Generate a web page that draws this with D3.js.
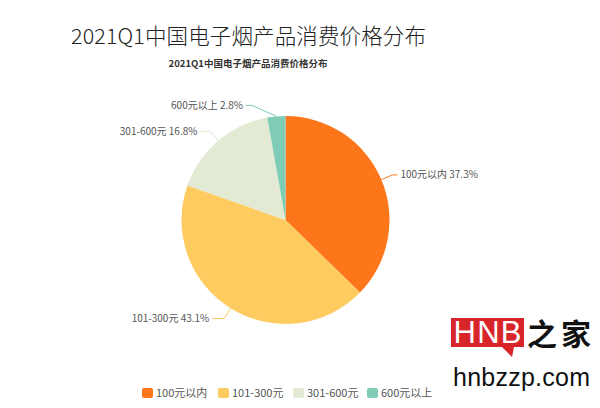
<!DOCTYPE html>
<html><head><meta charset="utf-8">
<script src="https://cdn.jsdelivr.net/npm/d3@7/dist/d3.min.js"></script>
<style>body{margin:0;background:#fff}svg{display:block}</style>
</head><body>
<svg id="c" width="600" height="408"></svg>
<script>
const title = "2021Q1中国电子烟产品消费价格分布";
const categories = ["100元以内", "101-300元", "301-600元", "600元以上"];
const values = [37.3, 43.1, 16.8, 2.8];
const colors = ["#FD761A", "#FDCB5F", "#E2EAD3", "#7ECCB6"];

const svg = d3.select("#c");
const font = "'Noto Sans CJK SC','Noto Sans',sans-serif";
const cx = 285.5, cy = 220, r = 104;

svg.append("text").attr("x", 71).attr("y", 44).attr("font-family", font)
  .attr("font-size", 21.5).attr("font-weight", 300).attr("fill", "#222")
  .attr("textLength", 355).text(title);
svg.append("text").attr("x", 248).attr("y", 67).attr("text-anchor", "middle")
  .attr("font-family", font).attr("font-size", 9.5).attr("font-weight", 700)
  .attr("fill", "#333").text(title);

const data = categories.map((c, i) => ({cat: c, v: values[i], color: colors[i]}));
const pie = d3.pie().value(d => d.v).sort(null);
const arcs = pie(data);
const arc = d3.arc().innerRadius(0).outerRadius(r);
const g = svg.append("g").attr("transform", `translate(${cx},${cy})`);
g.selectAll("path").data(arcs).join("path")
  .attr("d", arc).attr("fill", d => d.data.color);

// leader layout: radial length, horizontal length, vertical shift of label
const len1 = [12, 12, 12, 4];
const len2 = [5, 12, 10, 6];
const shiftX = [0, 0, 0, -24];
const shiftY = [0, 0, 0, -7];
arcs.forEach((a, i) => {
  const m = (a.startAngle + a.endAngle) / 2;
  const p0 = [r * Math.sin(m), -r * Math.cos(m)];
  const p1 = [(r + len1[i]) * Math.sin(m) + shiftX[i], -(r + len1[i]) * Math.cos(m) + shiftY[i]];
  const right = Math.sin(m) > 0;
  const p2 = [p1[0] + (right ? len2[i] : -len2[i]), p1[1]];
  g.append("polyline").attr("points", [p0, p1, p2].map(p => p.join(",")).join(" "))
    .attr("fill", "none").attr("stroke", a.data.color).attr("stroke-width", 1);
  g.append("text").attr("x", p2[0] + (right ? 3 : -3)).attr("y", p2[1])
    .attr("dy", "0.35em").attr("text-anchor", right ? "start" : "end")
    .attr("font-family", font).attr("font-size", 10).attr("fill", "#555")
    .text(a.data.cat + " " + a.data.v.toFixed(1) + "%");
});

// legend
const legX = [142, 218, 293, 367];
const leg = svg.append("g");
data.forEach((d, i) => {
  leg.append("rect").attr("x", legX[i]).attr("y", 388).attr("width", 11).attr("height", 10)
    .attr("rx", 2).attr("fill", d.color);
  leg.append("text").attr("x", legX[i] + 14).attr("y", 393).attr("dy", "0.35em")
    .attr("font-family", font).attr("font-size", 11).attr("fill", "#555").text(d.cat);
});

// watermark
const wm = svg.append("g");
wm.append("path").attr("d", "M451,318 H524 V347 H514 L512,357 L502,347 H451 Z").attr("fill", "#D7252A");
wm.append("text").attr("x", 487.5).attr("y", 343).attr("text-anchor", "middle")
  .attr("font-family", "'Liberation Sans',Arial,sans-serif").attr("font-size", 31)
  .attr("fill", "#fff").attr("textLength", 68).text("HNB");
wm.append("text").attr("x", 527).attr("y", 345).attr("font-family", "'DejaVu Serif','Noto Sans CJK SC',serif")
  .attr("font-size", 30).attr("font-weight", 700).attr("fill", "#111").attr("textLength", 64).text("之家");
wm.append("text").attr("x", 453).attr("y", 386).attr("font-family", "'Liberation Sans',Arial,sans-serif")
  .attr("font-size", 25).attr("fill", "#111").attr("textLength", 137).text("hnbzzp.com");
</script>
</body></html>
